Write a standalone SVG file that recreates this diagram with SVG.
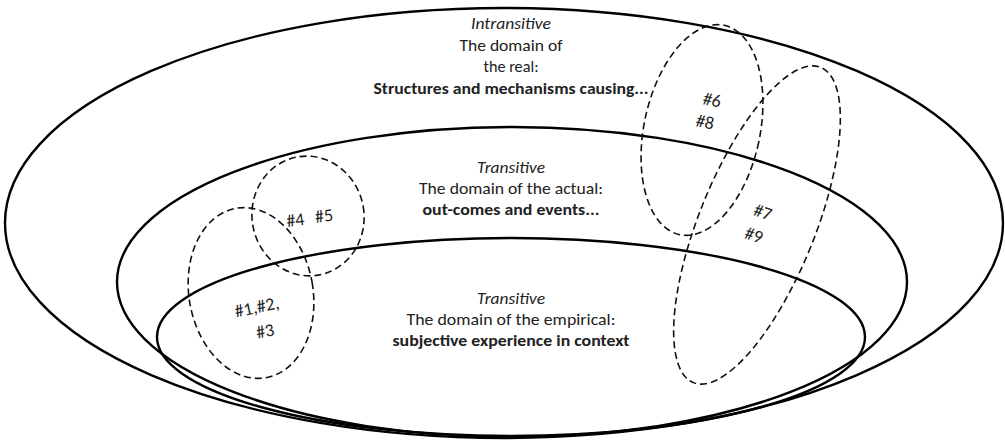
<svg xmlns="http://www.w3.org/2000/svg" width="1005" height="441" viewBox="0 0 1005 441">
  <style>
    .domain { fill: none; stroke: #000; stroke-width: 2.4; }
    .cluster { fill: none; stroke: #111; stroke-width: 1.6; stroke-dasharray: 7 4; }
    text { font-family: Carlito, Lato, "Liberation Sans", sans-serif; font-size: 16.5px; fill: #222; text-anchor: middle; }
    .it { font-style: italic; }
    .b { font-weight: bold; }
    .tag { font-size: 18px; }
  </style>
  <rect width="1005" height="441" fill="#fff"/>

  <!-- nested domains of critical realism -->
  <g id="domain-real">
    <ellipse class="domain" cx="504" cy="223" rx="499" ry="215"/>
    <text class="it" x="511" y="29" textLength="80" lengthAdjust="spacingAndGlyphs">Intransitive</text>
    <text x="511" y="51" textLength="103" lengthAdjust="spacingAndGlyphs">The domain of</text>
    <text x="511" y="72" textLength="55" lengthAdjust="spacingAndGlyphs">the real:</text>
    <text class="b" x="511" y="94" textLength="275" lengthAdjust="spacingAndGlyphs">Structures and mechanisms causing...</text>
  </g>
  <g id="domain-actual">
    <ellipse class="domain" cx="512" cy="282" rx="395" ry="155"/>
    <text class="it" x="511" y="173" textLength="68" lengthAdjust="spacingAndGlyphs">Transitive</text>
    <text x="511" y="194" textLength="184" lengthAdjust="spacingAndGlyphs">The domain of the actual:</text>
    <text class="b" x="511" y="215" textLength="177" lengthAdjust="spacingAndGlyphs">out-comes and events...</text>
  </g>
  <g id="domain-empirical">
    <ellipse class="domain" cx="511" cy="337" rx="354" ry="99"/>
    <text class="it" x="511" y="304" textLength="68" lengthAdjust="spacingAndGlyphs">Transitive</text>
    <text x="511" y="325" textLength="209" lengthAdjust="spacingAndGlyphs">The domain of the empirical:</text>
    <text class="b" x="511" y="346" textLength="237" lengthAdjust="spacingAndGlyphs">subjective experience in context</text>
  </g>

  <!-- dashed clusters of studies -->
  <g id="cluster-1-2-3">
    <ellipse class="cluster" cx="251" cy="293" rx="62" ry="86" transform="rotate(-10 251 293)"/>
    <text class="tag" x="257" y="313" transform="rotate(-12 257 308)">#1,#2,</text>
    <text class="tag" x="265" y="337" transform="rotate(-12 265 331)">#3</text>
  </g>
  <g id="cluster-4-5">
    <ellipse class="cluster" cx="308" cy="216" rx="56" ry="60" transform="rotate(-10 308 216)"/>
    <g transform="rotate(-8 309 217)">
      <text class="tag" x="295" y="224">#4</text>
      <text class="tag" x="324" y="224">#5</text>
    </g>
  </g>
  <g id="cluster-6-8">
    <ellipse class="cluster" cx="702" cy="130" rx="58" ry="107" transform="rotate(12 702 130)"/>
    <text class="tag" x="712" y="106" transform="rotate(12 712 100)">#6</text>
    <text class="tag" x="705" y="128" transform="rotate(12 705 122)">#8</text>
  </g>
  <g id="cluster-7-9">
    <ellipse class="cluster" cx="757" cy="225" rx="58" ry="170" transform="rotate(22 757 225)"/>
    <text class="tag" x="763" y="218" transform="rotate(18 763 212)">#7</text>
    <text class="tag" x="754" y="241" transform="rotate(18 754 235)">#9</text>
  </g>
</svg>
